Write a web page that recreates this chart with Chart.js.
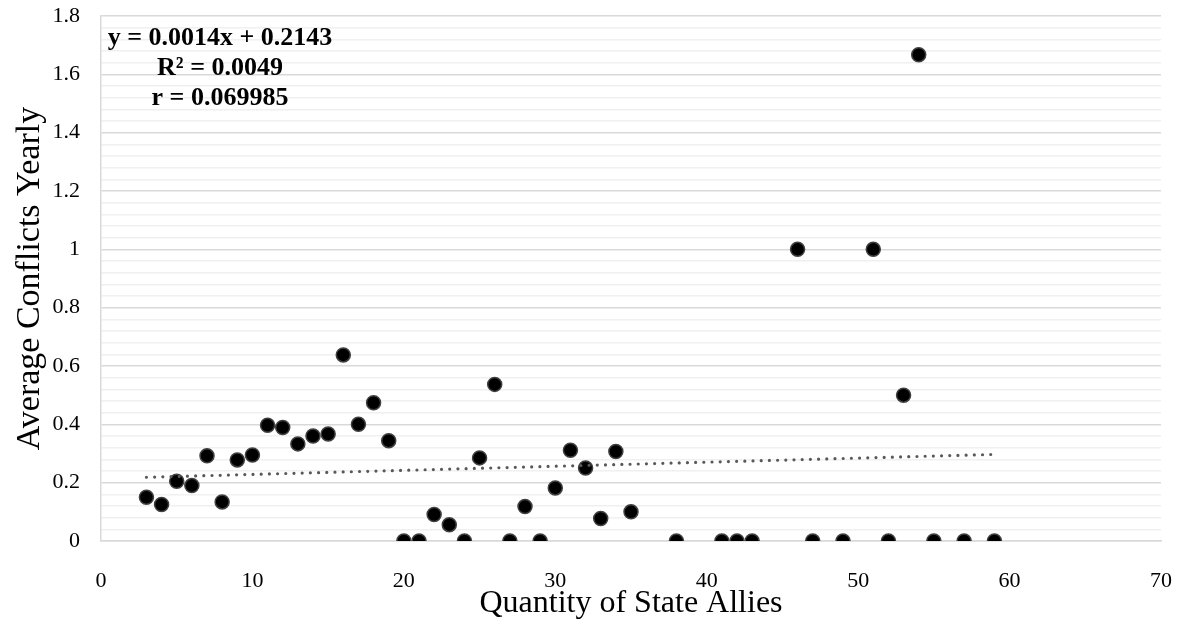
<!DOCTYPE html>
<html>
<head>
<meta charset="utf-8">
<script src="https://cdn.jsdelivr.net/npm/chart.js@4.4.0/dist/chart.umd.min.js"></script>
<style>
  html, body { margin: 0; padding: 0; background: #fff; }
  #wrap { width: 1180px; height: 630px; }
</style>
</head>
<body>
<div id="wrap"><canvas id="chart" width="1180" height="630"></canvas></div>
<script>
// Quantity of state allies vs. average conflicts per year
const allies = [3, 4, 5, 6, 7, 8, 9, 10, 11, 12, 13, 14, 15, 16, 17, 18, 19, 20, 21, 22, 23, 24, 25, 26, 27, 28, 29, 30, 31, 32, 33, 34, 35,
    38, 41, 42, 43, 46, 47, 49, 51, 52, 53, 54, 55, 57, 59];
const conflicts = [0.15, 0.125, 0.205, 0.19, 0.292, 0.134, 0.278, 0.295, 0.397, 0.389, 0.333, 0.36, 0.367, 0.638, 0.4, 0.474, 0.344, 0, 0, 0.091, 0.056, 0, 0.285, 0.537, 0, 0.118, 0, 0.182, 0.311, 0.25, 0.077, 0.307, 0.1,
    0, 0, 0, 0, 1, 0, 0, 1, 0, 0.5, 1.667, 0, 0, 0];

// linear trendline end points (as drawn in the source)
const trendX = [3, 59];
const trendY = [0.2185, 0.2969];

const trendLabel = ['y = 0.0014x + 0.2143', 'R\u00B2 = 0.0049', 'r = 0.069985'];

const FONT = "'Liberation Serif', 'Times New Roman', serif";

const isMajor = v => Math.abs(v / 0.2 - Math.round(v / 0.2)) < 1e-6;

// draws the equation box in the top left corner
const labelPlugin = {
    id: 'trendLabel',
    afterDatasetsDraw(chart) {
        const ctx = chart.ctx;
        ctx.save();
        ctx.font = "bold 26px " + FONT;
        ctx.fillStyle = '#000';
        ctx.textAlign = 'center';
        ctx.textBaseline = 'alphabetic';
        trendLabel.forEach((t, i) => ctx.fillText(t, 220, 44.5 + i * 30));
        ctx.restore();
    }
};

new Chart(document.getElementById('chart'), {
    type: 'scatter',
    data: {
        datasets: [
            {
                type: 'line',
                data: trendX.map((x, i) => ({ x: x, y: trendY[i] })),
                borderColor: '#595959',
                borderWidth: 3.2,
                borderDash: [0, 8.2],
                borderCapStyle: 'round',
                pointRadius: 0,
                fill: false,
                order: 0
            },
            {
                data: allies.map((x, i) => ({ x: x, y: conflicts[i] })),
                backgroundColor: '#000',
                borderColor: '#404040',
                borderWidth: 1.5,
                pointRadius: 7,
                pointHoverRadius: 7,
                order: 1
            }
        ]
    },
    options: {
        responsive: false,
        animation: false,
        events: [],
        layout: { padding: { top: 16, right: 19, left: 0, bottom: 0 } },
        plugins: { legend: { display: false }, tooltip: { enabled: false } },
        scales: {
            x: {
                type: 'linear',
                min: 0,
                max: 70,
                afterFit: s => { s.height = 89; s.paddingLeft = 0; s.paddingRight = 0; },
                grid: { display: false },
                border: { display: true, color: '#d9d9d9', width: 1.5 },
                ticks: { stepSize: 10, padding: 19, color: '#000', font: { family: FONT, size: 22 } },
                title: {
                    display: true,
                    text: 'Quantity of State Allies',
                    color: '#000',
                    font: { family: FONT, size: 32 },
                    padding: { top: 0, bottom: 7 }
                }
            },
            y: {
                min: 0,
                max: 1.8,
                afterFit: s => { s.width = 101; s.paddingTop = 0; s.paddingBottom = 0; },
                grid: {
                    drawTicks: false,
                    color: c => isMajor(c.tick.value) ? '#d9d9d9' : '#f0f0f0',
                    lineWidth: 1.5
                },
                border: { display: true, color: '#d9d9d9', width: 1.5 },
                ticks: {
                    stepSize: 0.04,
                    autoSkip: false,
                    padding: 21,
                    color: '#000',
                    font: { family: FONT, size: 22 },
                    callback: v => isMajor(v) ? String(Math.round(v * 10) / 10) : ''
                },
                title: {
                    display: true,
                    text: 'Average Conflicts Yearly',
                    color: '#000',
                    font: { family: FONT, size: 34 },
                    padding: { top: 10, bottom: 0 }
                }
            }
        }
    },
    plugins: [labelPlugin]
});
</script>
</body>
</html>
